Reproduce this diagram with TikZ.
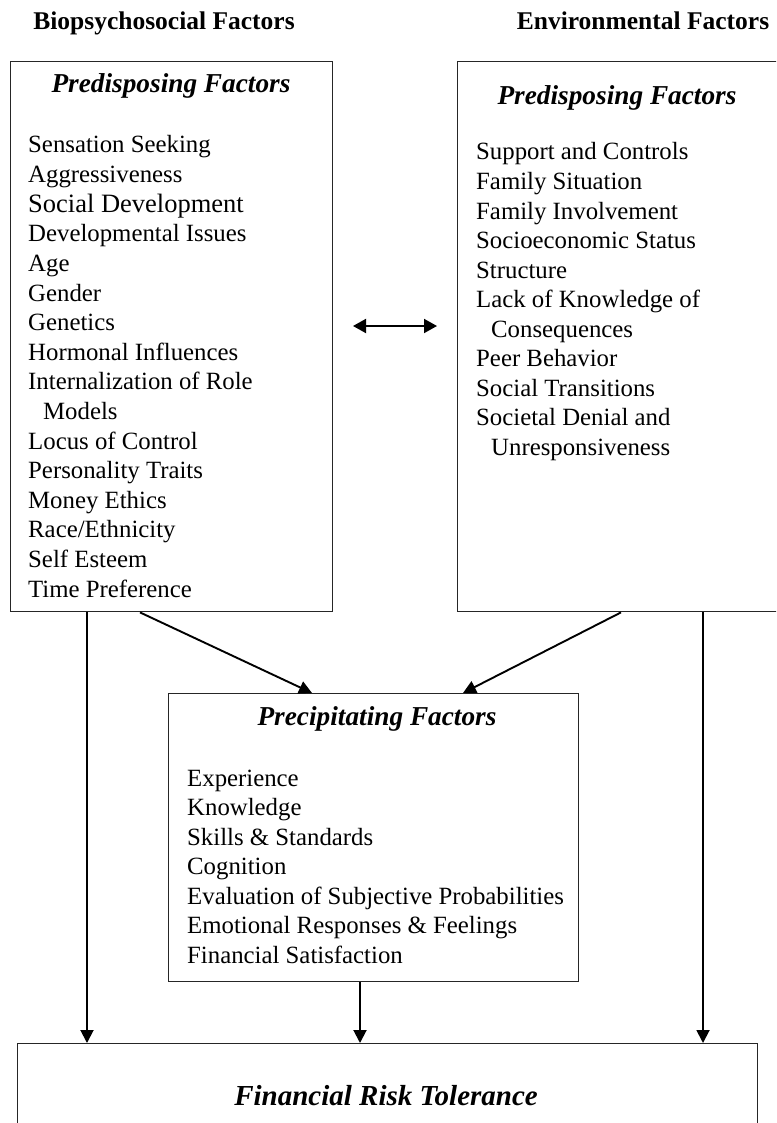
\documentclass[tikz,border=0pt]{standalone}
\usepackage{fontspec}
\setmainfont{Liberation Serif}
\usetikzlibrary{arrows.meta,calc}
\begin{document}
\begin{tikzpicture}[x=1pt,y=-1pt,
  box/.style={draw=black!85, line width=1.4pt, inner sep=0pt, anchor=north west},
  arr/.style={line width=1.9pt, -{Triangle[length=13pt,width=13pt]}},
  dbl/.style={line width=1.9pt, {Triangle[length=13pt,width=14pt]}-{Triangle[length=13pt,width=14pt]}},
  item/.style={anchor=base west, inner sep=0pt, font=\fontsize{24.8}{29.5}\selectfont},
  ttl/.style={anchor=base, inner sep=0pt, font=\fontsize{27.3}{30}\selectfont\bfseries\itshape},
  hdr/.style={anchor=base, inner sep=0pt, font=\fontsize{25.5}{30}\selectfont\bfseries}]
\useasboundingbox (0,0) rectangle (776,1123);
\clip (0,0) rectangle (776,1123);

% headers
\node[hdr] (h1) at (164,30) {Biopsychosocial Factors};
\node[hdr] (h2) at (643,30) {Environmental Factors};

% boxes
\node[box, minimum width=322pt, minimum height=550pt] (lbox) at (10,61) {};
\node[box, minimum width=340pt, minimum height=550pt] (rbox) at (457,61) {};
\node[box, minimum width=410pt, minimum height=288pt] (pbox) at (168,693) {};
\node[box, minimum width=740pt, minimum height=140pt] (fbox) at (17,1043) {};

% titles
\node[ttl] (lt) at (171,93) {Predisposing Factors};
\node[ttl] (rt) at (617,105) {Predisposing Factors};
\node[ttl] (pt) at (377,725) {Precipitating Factors};
\node[ttl, font=\fontsize{29}{32}\selectfont\bfseries\itshape] (ft) at (386,1105) {Financial Risk Tolerance};

% left list
\foreach \t [count=\i from 0] in {Sensation Seeking, Aggressiveness, {\fontsize{26.5}{30}\selectfont Social Development}, Developmental Issues, Age, Gender, Genetics, Hormonal Influences, Internalization of Role, {\hspace*{15pt}Models}, Locus of Control, Personality Traits, Money Ethics, Race/Ethnicity, Self Esteem, Time Preference}
  \node[item] (l\i) at (28,{153+29.6*\i}) {\t};

% right list
\foreach \t [count=\i from 0] in {Support and Controls, Family Situation, Family Involvement, Socioeconomic Status, Structure, Lack of Knowledge of, {\hspace*{15pt}Consequences}, Peer Behavior, Social Transitions, Societal Denial and, {\hspace*{15pt}Unresponsiveness}}
  \node[item] (r\i) at (476,{160+29.5*\i}) {\t};

% precipitating list
\foreach \t [count=\i from 0] in {Experience, Knowledge, Skills \& Standards, Cognition, Evaluation of Subjective Probabilities, Emotional Responses \& Feelings, Financial Satisfaction}
  \node[item] (p\i) at (187,{786+29.5*\i}) {\t};

% connectors
\coordinate (dl) at (353,326);
\coordinate (dr) at (437,326);
\draw[dbl] (dl) -- (dr);

\draw[arr] (140,0 |- lbox.south) -- (312,0 |- pbox.north);
\draw[arr] (621,0 |- rbox.south) -- (463,0 |- pbox.north);
\draw[arr] (87,0 |- lbox.south) -- (87,0 |- fbox.north);
\draw[arr] (703,0 |- rbox.south) -- (703,0 |- fbox.north);
\draw[arr] (360,0 |- pbox.south) -- (360,0 |- fbox.north);
\end{tikzpicture}
\end{document}
